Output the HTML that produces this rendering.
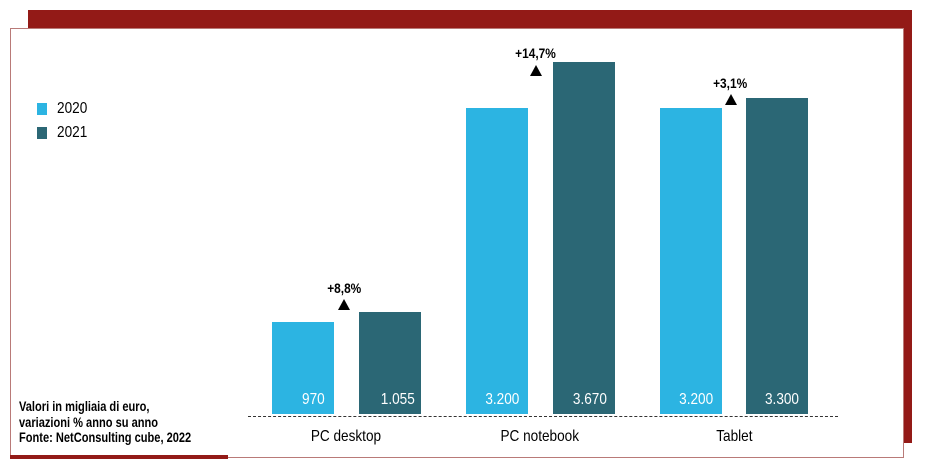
<!DOCTYPE html>
<html><head><style>
body{margin:0;width:927px;height:474px;background:#fff;overflow:hidden;position:relative;font-family:"Liberation Sans",sans-serif}
.a{position:absolute}
.t{position:absolute;white-space:nowrap;transform-origin:0 0}
</style></head><body>
<div class="a" style="left:28px;top:10px;width:884px;height:433px;background:#931a17"></div>
<div class="a" style="left:10px;top:28px;width:892px;height:428px;background:#fff;border:1px solid #b97a78"></div>
<div class="a" style="left:10px;top:455px;width:218px;height:4px;background:#931a17"></div>
<div class="a" style="left:37px;top:103px;width:10px;height:12px;background:#2cb4e2"></div>
<div class="a" style="left:37px;top:127px;width:10px;height:12px;background:#2b6775"></div>
<div class="t" style="left:57px;top:100px;font-size:16px;transform:scaleX(.85)">2020</div>
<div class="t" style="left:57px;top:124px;font-size:16px;transform:scaleX(.85)">2021</div>
<div class="t" style="left:19px;top:399px;font-size:13.5px;font-weight:bold;line-height:15.5px;transform:scaleX(.82)">Valori in migliaia di euro,<br>variazioni % anno su anno<br>Fonte: NetConsulting cube, 2022</div>
<div class="a" style="left:248px;top:416px;width:590px;border-top:1.5px dashed #333"></div>
<svg class="a" style="left:0;top:0" width="927" height="474">
<g fill="#2cb4e2"><rect x="272" y="322" width="62" height="92"/><rect x="466" y="108" width="62" height="306"/><rect x="660" y="108" width="62" height="306"/></g>
<g fill="#2b6775"><rect x="359" y="312" width="62" height="102"/><rect x="553" y="62" width="62" height="352"/><rect x="746" y="98" width="62" height="316"/></g>
<g fill="#000"><polygon points="338,310 350,310 344,299"/><polygon points="530,76 542,76 536,65"/><polygon points="725,105 737,105 731,94"/></g>
<g font-family="Liberation Sans" font-size="16" fill="#fff" text-anchor="end" transform="scale(0.85,1)">
<text x="382" y="404">970</text><text x="488" y="404">1.055</text>
<text x="611" y="404">3.200</text><text x="714" y="404">3.670</text>
<text x="839" y="404">3.200</text><text x="940" y="404">3.300</text>
</g>
<g font-family="Liberation Sans" font-size="16" fill="#000" text-anchor="middle" transform="scale(0.85,1)">
<text x="407" y="441">PC desktop</text><text x="635" y="441">PC notebook</text><text x="864" y="441">Tablet</text>
</g>
<g font-family="Liberation Sans" font-size="14" font-weight="bold" fill="#000" text-anchor="middle" transform="scale(0.85,1)">
<text x="405" y="293">+8,8%</text><text x="630" y="58">+14,7%</text><text x="859" y="88">+3,1%</text>
</g>
</svg>
</body></html>
